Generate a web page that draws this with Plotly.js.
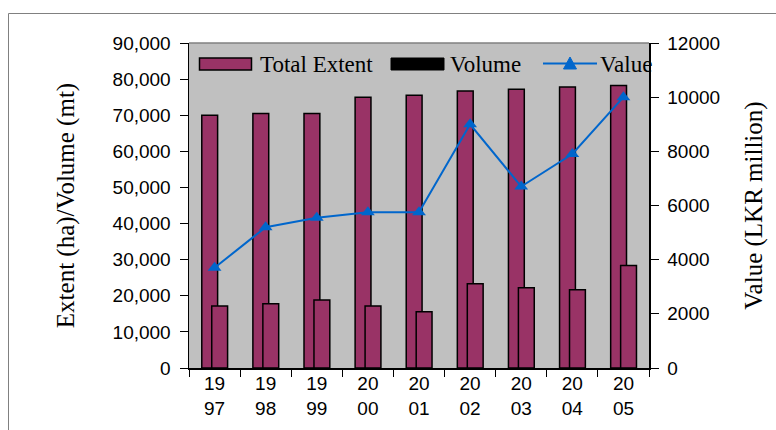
<!DOCTYPE html>
<html>
<head>
<meta charset="utf-8">
<script src="https://cdn.plot.ly/plotly-3.0.1.min.js"></script>
<style>html,body{margin:0;padding:0;background:#fff;}#chart{width:776px;height:430px;}</style>
</head>
<body>
<div id="chart"></div>
<script>
// ---- data ----
const years = ['19<br>97','19<br>98','19<br>99','20<br>00','20<br>01','20<br>02','20<br>03','20<br>04','20<br>05'];
const totalExtent = [70000, 70500, 70500, 75000, 75500, 76700, 77200, 77800, 78200];
const volume = [17200, 17800, 18800, 17200, 15600, 23300, 22200, 21700, 28400];
const value = [3700, 5200, 5550, 5750, 5750, 9000, 6700, 7900, 10000];
const seriesNames = ['Total Extent', 'Volume', 'Value'];

// ---- layout helpers (pixel -> paper) ----
const W = 776, H = 430;
const M = {l: 189, r: 127, t: 43, b: 62};
const PW = W - M.l - M.r, PH = H - M.t - M.b;
const fx = p => (p - M.l) / PW;
const fy = p => (H - M.b - p) / PH;

const barColor = '#993366';
const lineColor = '#0066CC';
const serif = 'Liberation Serif, Times New Roman, serif';
const sans = 'Liberation Sans, Arial, sans-serif';

const traces = [
  {type: 'bar', x: years, y: totalExtent, name: seriesNames[0], width: 0.31, offset: -0.25,
   marker: {color: barColor, line: {color: '#000', width: 1.5}}, showlegend: false},
  {type: 'bar', x: years, y: volume, name: seriesNames[1], width: 0.31, offset: -0.055,
   marker: {color: barColor, line: {color: '#000', width: 1.5}}, showlegend: false},
  {type: 'scatter', mode: 'lines+markers', x: years, y: value, name: seriesNames[2], yaxis: 'y2',
   line: {color: lineColor, width: 2}, marker: {symbol: 'triangle-up', size: 12, color: lineColor},
   showlegend: false}
];

const shapes = [
  // outer frame
  {type: 'rect', xref: 'paper', yref: 'paper', x0: fx(8.5), x1: fx(800), y0: fy(460), y1: fy(13.5),
   line: {color: '#808080', width: 1}, fillcolor: 'rgba(0,0,0,0)', layer: 'below'},
  // top border of plot area
  {type: 'line', xref: 'paper', yref: 'paper', x0: 0, x1: 1, y0: 1, y1: 1,
   line: {color: '#808080', width: 1.5}},
  // legend swatches
  {type: 'rect', xref: 'paper', yref: 'paper', x0: fx(199.5), x1: fx(251.5), y0: fy(70), y1: fy(58),
   fillcolor: barColor, line: {color: '#000', width: 1.5}},
  {type: 'rect', xref: 'paper', yref: 'paper', x0: fx(391), x1: fx(444), y0: fy(70), y1: fy(58),
   fillcolor: '#000', line: {color: '#000', width: 1}},
  {type: 'line', xref: 'paper', yref: 'paper', x0: fx(543), x1: fx(597), y0: fy(63.5), y1: fy(63.5),
   line: {color: lineColor, width: 2}},
  {type: 'path', xref: 'paper', yref: 'paper',
   path: `M ${fx(570)} ${fy(57)} L ${fx(576.5)} ${fy(69)} L ${fx(563.5)} ${fy(69)} Z`,
   fillcolor: lineColor, line: {color: lineColor, width: 1}}
];

const legendText = (txt, px) => ({xref: 'paper', yref: 'paper', x: fx(px), y: fy(64), xanchor: 'left',
  yanchor: 'middle', text: txt, showarrow: false, font: {family: serif, size: 23, color: '#000'}});

const annotations = [
  legendText(seriesNames[0], 258),
  legendText(seriesNames[1], 448),
  legendText(seriesNames[2], 598)
];

const layout = {
  width: W, height: H,
  margin: M,
  paper_bgcolor: '#ffffff',
  plot_bgcolor: '#C0C0C0',
  barmode: 'overlay',
  showlegend: false,
  font: {family: sans, size: 19, color: '#000'},
  xaxis: {
    type: 'category', tickson: 'boundaries', ticks: 'outside', ticklen: 7, tickcolor: '#000',
    showline: true, linecolor: '#000', linewidth: 1.5, showgrid: false, zeroline: false,
    ticklabelstandoff: -2,
    tickfont: {family: sans, size: 19, color: '#000'}, range: [-0.5, 8.5], fixedrange: true
  },
  yaxis: {
    range: [0, 90000], dtick: 10000, tickformat: ',d', ticks: 'outside', ticklen: 8, tickcolor: '#000',
    showline: true, linecolor: '#000', linewidth: 1.5, showgrid: false, zeroline: false,
    ticklabelstandoff: 5,
    tickfont: {family: sans, size: 19, color: '#000'},
    title: {text: 'Extent (ha)/Volume (mt)', font: {family: serif, size: 25, color: '#000'}, standoff: 31}
  },
  yaxis2: {
    overlaying: 'y', side: 'right', range: [0, 12000], dtick: 2000, tickformat: 'd',
    ticks: 'outside', ticklen: 8, tickcolor: '#000',
    showline: true, linecolor: '#000', linewidth: 1.5, showgrid: false, zeroline: false,
    ticklabelstandoff: 5,
    tickfont: {family: sans, size: 19, color: '#000'},
    title: {text: 'Value (LKR million)', font: {family: serif, size: 25, color: '#000'}, standoff: 25}
  },
  shapes: shapes,
  annotations: annotations
};

Plotly.newPlot('chart', traces, layout, {displayModeBar: false, staticPlot: true});
</script>
</body>
</html>
